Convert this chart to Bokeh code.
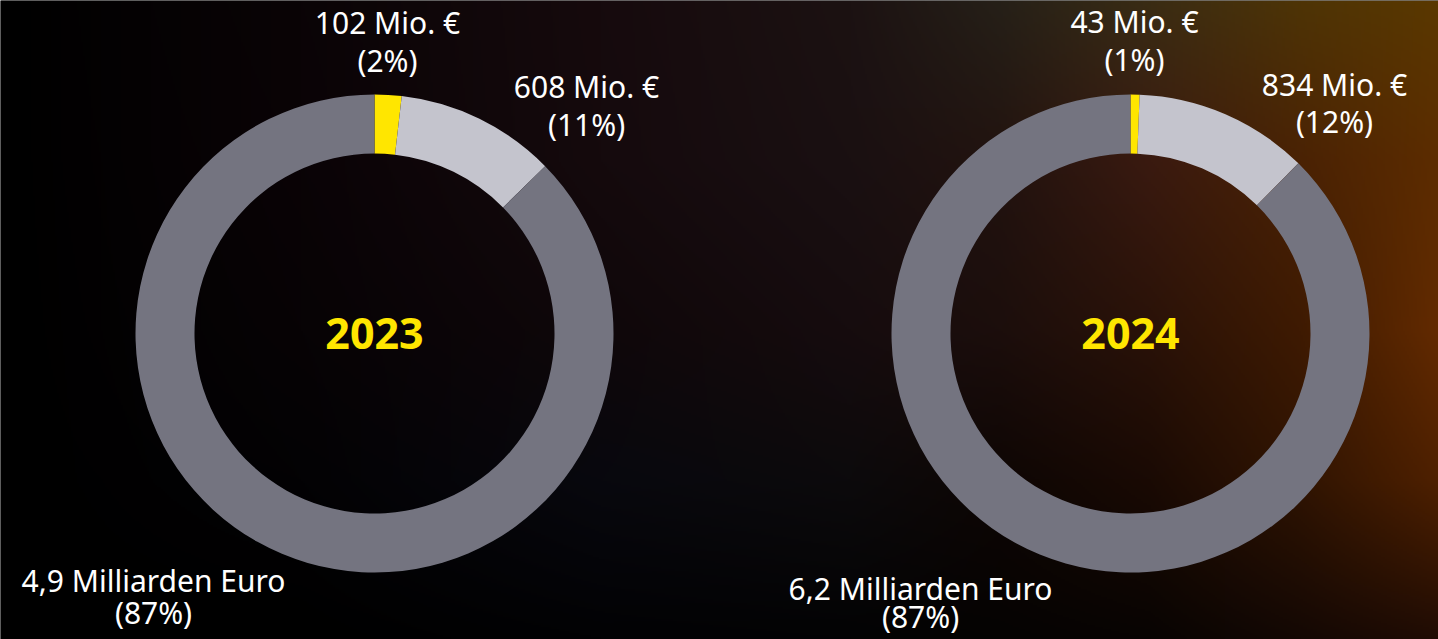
import numpy as np
from bokeh.plotting import figure
from bokeh.models import Range1d, ColumnDataSource
from bokeh.core.properties import value
from bokeh.embed import file_html
from bokeh.resources import INLINE

# ---------------- data ----------------
years = ["2023", "2024"]
segments = ["Segment A", "Segment B", "Segment C"]
values_2023 = [102, 608, 4900]      # Mio. €
values_2024 = [43, 834, 6200]       # Mio. €
amount_labels_2023 = ["102 Mio. €", "608 Mio. €", "4,9 Milliarden Euro"]
amount_labels_2024 = ["43 Mio. €", "834 Mio. €", "6,2 Milliarden Euro"]
pct_labels_2023 = ["(2%)", "(11%)", "(87%)"]
pct_labels_2024 = ["(1%)", "(12%)", "(87%)"]

# ---------------- style / layout ----------------
W, H = 1438, 639
seg_colors = ["#FFE600", "#C4C4CD", "#747480"]
FONT = "Noto Sans"
R_OUT, R_IN = 239, 180
centers = {"2023": (374, 333), "2024": (1130, 333)}   # page coords
label_pos = {
    "2023": [(387, 22, 60), (586, 86, 124), (153, 580, 612)],
    "2024": [(1134, 21, 59), (1334, 84, 121), (920, 588, 616)],
}

def py(y):  # page y -> data y
    return H - y

p = figure(width=W, height=H, x_range=Range1d(0, W), y_range=Range1d(0, H),
           output_backend="svg", toolbar_location=None, x_axis_type=None, y_axis_type=None,
           min_border=0, background_fill_color="#000000", border_fill_color="#000000")
p.outline_line_color = None
p.grid.visible = False

# ---------------- background gradient (decoration) ----------------
cx = np.array([0, 300, 600, 850, 1000, 1150, 1300, 1438], float)
cy = np.array([0, 160, 330, 480, 639], float)
grid_hex = [
    ["#000000", "#0a0406", "#160a0d", "#1c1212", "#262018", "#3a2c14", "#4e3406", "#5a3800"],
    ["#000000", "#0a0306", "#150a0d", "#1a1012", "#22130f", "#3a1a10", "#4a2204", "#5c2c00"],
    ["#000000", "#070305", "#0f070a", "#160c0e", "#1c0e0c", "#2a1208", "#3e1a02", "#622a00"],
    ["#000000", "#030204", "#08080e", "#0c0a0c", "#0e0604", "#1a0a04", "#301402", "#4e2000"],
    ["#000000", "#000000", "#020204", "#030304", "#050302", "#080402", "#140804", "#200c04"],
]
grid = np.array([[[int(h[i:i + 2], 16) for i in (1, 3, 5)] for h in row] for row in grid_hex], float)
nx, ny = W // 2, H // 2
px = np.linspace(0, W, nx)
pyy = np.linspace(0, H, ny)
rows = np.stack([np.stack([np.interp(px, cx, grid[r, :, c]) for c in range(3)], -1) for r in range(len(cy))])
img = np.empty((ny, nx, 3))
for c in range(3):
    for j in range(nx):
        img[:, j, c] = np.interp(pyy, cy, rows[:, j, c])
rgba = np.zeros((ny, nx, 4), dtype=np.uint8)
rgba[..., :3] = np.clip(img, 0, 255).astype(np.uint8)
rgba[..., 3] = 255
rgba = rgba[::-1].copy()
p.image_rgba(image=[rgba.view(dtype=np.uint32).reshape(ny, nx)], x=0, y=0, dw=W, dh=H)

# ---------------- donuts ----------------
for yr, vals, amounts, pcts in [("2023", values_2023, amount_labels_2023, pct_labels_2023),
                                ("2024", values_2024, amount_labels_2024, pct_labels_2024)]:
    v = np.array(vals, float)
    frac = v / v.sum()
    cum = np.concatenate([[0], np.cumsum(frac)])
    start = np.pi / 2 - 2 * np.pi * cum[:-1]
    end = np.pi / 2 - 2 * np.pi * cum[1:]
    x0, y0 = centers[yr]
    src = ColumnDataSource(dict(x=[x0] * 3, y=[py(y0)] * 3, start=start, end=end,
                                color=seg_colors, seg=segments, val=vals))
    p.annular_wedge(x="x", y="y", inner_radius=R_IN, outer_radius=R_OUT, start_angle="start",
                    end_angle="end", direction="clock", fill_color="color", line_color=None, source=src)
    lp = label_pos[yr]
    p.text(x=[q[0] for q in lp], y=[py(q[1]) for q in lp], text=amounts, text_color="#FFFFFF",
           text_font=value(FONT), text_font_size="30px", text_align="center", text_baseline="middle")
    p.text(x=[q[0] for q in lp], y=[py(q[2]) for q in lp], text=pcts, text_color="#FFFFFF",
           text_font=value(FONT), text_font_size="30px", text_align="center", text_baseline="middle")
    p.text(x=[x0], y=[py(y0)], text=[yr], text_color="#FFE600", text_font=value(FONT),
           text_font_style="bold", text_font_size="43px", text_align="center", text_baseline="middle")

open("out.html", "w").write(file_html(p, INLINE))
